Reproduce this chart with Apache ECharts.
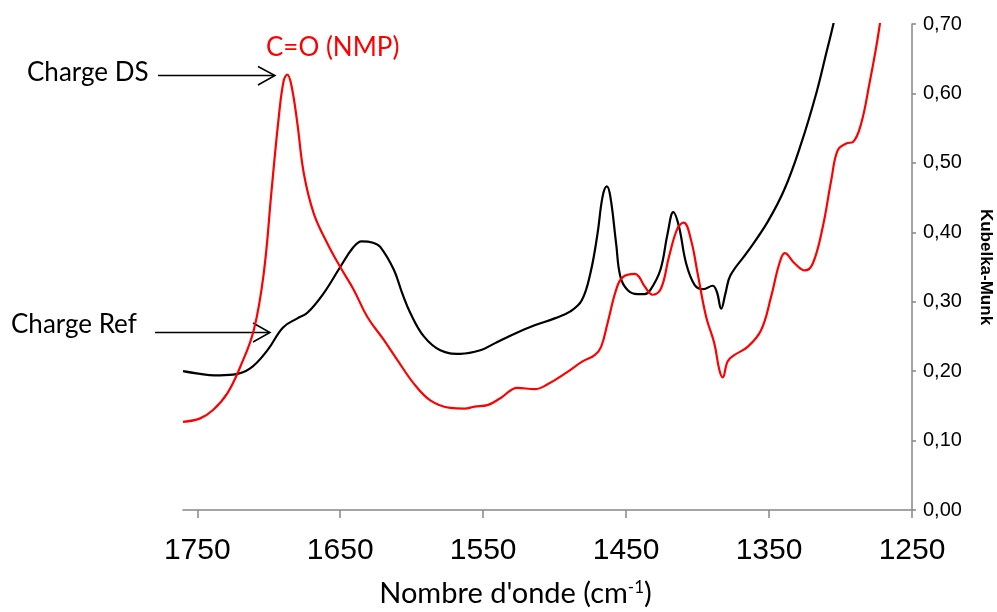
<!DOCTYPE html>
<html>
<head>
<meta charset="utf-8">
<script src="https://cdn.jsdelivr.net/npm/echarts@6.0.0/dist/echarts.min.js"></script>
<style>
  html, body { margin: 0; padding: 0; background: #fff; }
  #main { width: 997px; height: 612px; }
</style>
</head>
<body>
<div id="main"></div>
<script>
// nombres d'onde (cm-1) et valeurs Kubelka-Munk
// Charge Ref (noir)
var refWave = [1760, 1748, 1738, 1725, 1713, 1701, 1690, 1680, 1673, 1662, 1650, 1641, 1635, 1627, 1622, 1612.5,
  1606.6, 1600.8, 1591.5, 1580, 1566, 1552, 1542, 1528, 1514, 1500, 1489, 1481, 1475, 1470, 1466.5, 1463.5, 1461,
  1457, 1454, 1449, 1442, 1437, 1433, 1426, 1421, 1417, 1413, 1408, 1402, 1396, 1389.5, 1386.5, 1383.5, 1380.5,
  1377, 1365, 1351, 1339, 1327.5, 1317, 1310, 1305, 1300];
var refKM = [0.200, 0.196, 0.194, 0.195, 0.204, 0.230, 0.263, 0.276, 0.284, 0.311, 0.350, 0.378, 0.387, 0.385, 0.379,
  0.346, 0.312, 0.283, 0.250, 0.230, 0.225, 0.230, 0.240, 0.254, 0.266, 0.276, 0.286, 0.302, 0.341, 0.398, 0.451,
  0.466, 0.451, 0.384, 0.336, 0.317, 0.311, 0.311, 0.317, 0.346, 0.398, 0.429, 0.408, 0.355, 0.324, 0.318, 0.323,
  0.314, 0.290, 0.312, 0.338, 0.372, 0.415, 0.463, 0.528, 0.600, 0.658, 0.700, 0.750];

// Charge DS (rouge)
var dsWave = [1760, 1748, 1739, 1729, 1720, 1710.5, 1703.5, 1698, 1693, 1689.5, 1687, 1684, 1680, 1675.5, 1668.5,
  1659, 1650, 1640.5, 1631, 1619.5, 1610, 1598.5, 1587, 1573, 1563, 1556, 1547, 1538, 1526, 1514, 1505, 1491,
  1480.5, 1472, 1467.5, 1463, 1457, 1452.5, 1444, 1441, 1437, 1431.5, 1425.6, 1420, 1414, 1409.7, 1404.6, 1400,
  1394, 1388.3, 1384.8, 1382.4, 1379, 1374.4, 1365, 1355.6, 1348.6, 1342.8, 1339, 1332, 1325, 1319.4, 1312.4,
  1306.5, 1302, 1296, 1291.3, 1285.5, 1279.7, 1275, 1272.7, 1268];
var dsKM = [0.127, 0.132, 0.144, 0.168, 0.206, 0.259, 0.341, 0.461, 0.566, 0.619, 0.627, 0.610, 0.557, 0.485, 0.427,
  0.384, 0.350, 0.317, 0.278, 0.245, 0.216, 0.182, 0.158, 0.147, 0.146, 0.149, 0.151, 0.161, 0.176, 0.174, 0.181,
  0.199, 0.214, 0.223, 0.235, 0.269, 0.317, 0.335, 0.340, 0.336, 0.322, 0.310, 0.319, 0.365, 0.406, 0.414, 0.389,
  0.341, 0.278, 0.240, 0.202, 0.191, 0.214, 0.223, 0.235, 0.259, 0.307, 0.355, 0.370, 0.355, 0.345, 0.355, 0.408,
  0.475, 0.518, 0.528, 0.530, 0.557, 0.615, 0.667, 0.697, 0.760];

// graduations
var xTicks = [1250, 1350, 1450, 1550, 1650, 1750];

function pairs(xs, ys) {
  var out = [];
  for (var i = 0; i < xs.length; i++) out.push([xs[i], ys[i]]);
  return out;
}

var myChart = echarts.init(document.getElementById('main'));
var axisColor = '#868686';

var option = {
  backgroundColor: '#fff',
  animation: false,
  // outerBoundsMode none : la grille garde exactement sa place
  grid: { left: 183, right: 85, top: 24, bottom: 102, containLabel: false, outerBoundsMode: 'none' },
  xAxis: {
    type: 'value',
    inverse: true,
    min: 1250,
    max: 1760,
    name: 'Nombre d\'onde (cm{sup|-1})',
    nameLocation: 'middle',
    nameGap: 69,
    nameTextStyle: {
      fontFamily: 'Lato', fontSize: 29, color: '#000', padding: [0, 64, 0, 0],
      rich: { sup: { fontFamily: 'Lato', fontSize: 17, color: '#000', verticalAlign: 'top', padding: [0, 0, 12, 0] } }
    },
    axisLine: { show: true, lineStyle: { color: axisColor, width: 1.5 } },
    axisTick: { show: true, length: 8, customValues: xTicks, lineStyle: { color: axisColor, width: 1.5 } },
    axisLabel: {
      customValues: xTicks, fontFamily: 'Liberation Sans', fontSize: 30, color: '#000', margin: 26,
      formatter: function (v) { return String(v); }
    },
    splitLine: { show: false }
  },
  yAxis: {
    type: 'value',
    position: 'right',
    min: 0,
    max: 0.7,
    interval: 0.1,
    name: 'Kubelka-Munk',
    nameLocation: 'middle',
    nameRotate: -90,
    nameGap: 65,
    nameTextStyle: { fontFamily: 'Liberation Sans', fontSize: 17, fontWeight: 'bold', color: '#000' },
    axisLine: { show: true, lineStyle: { color: axisColor, width: 1.5 } },
    axisTick: { show: true, length: 4, lineStyle: { color: axisColor, width: 1.5 } },
    axisLabel: {
      fontFamily: 'Liberation Sans', fontSize: 20, color: '#000', margin: 11,
      formatter: function (v) { return v.toFixed(2).replace('.', ','); }
    },
    splitLine: { show: false }
  },
  series: [
    {
      name: 'Charge Ref', type: 'line', data: pairs(refWave, refKM),
      smooth: 0.4, showSymbol: false, clip: true,
      lineStyle: { color: '#000', width: 2.2 }
    },
    {
      name: 'Charge DS', type: 'line', data: pairs(dsWave, dsKM),
      smooth: 0.4, showSymbol: false, clip: true,
      lineStyle: { color: '#ff0000', width: 2.2 }
    }
  ],
  // annotations (texte + flèches)
  graphic: [
    { type: 'text', left: 27, top: 60, style: { text: 'Charge DS', fontFamily: 'Lato', fontSize: 26, fill: '#000' } },
    { type: 'line', shape: { x1: 158, y1: 75.5, x2: 274, y2: 75.5 }, style: { stroke: '#000', lineWidth: 1.5 } },
    { type: 'polyline', shape: { points: [[258, 66.5], [275, 75.5], [258, 85]] }, style: { stroke: '#000', lineWidth: 1.5, fill: null } },
    { type: 'text', left: 11, top: 312, style: { text: 'Charge Ref', fontFamily: 'Lato', fontSize: 26, fill: '#000' } },
    { type: 'line', shape: { x1: 155, y1: 332.5, x2: 269, y2: 332.5 }, style: { stroke: '#000', lineWidth: 1.5 } },
    { type: 'polyline', shape: { points: [[253, 323], [270, 332.5], [253, 342]] }, style: { stroke: '#000', lineWidth: 1.5, fill: null } },
    { type: 'text', left: 266, top: 35, style: { text: 'C=O (NMP)', fontFamily: 'Lato', fontSize: 26, fill: '#ff0000' } }
  ]
};

myChart.setOption(option);
</script>
</body>
</html>
